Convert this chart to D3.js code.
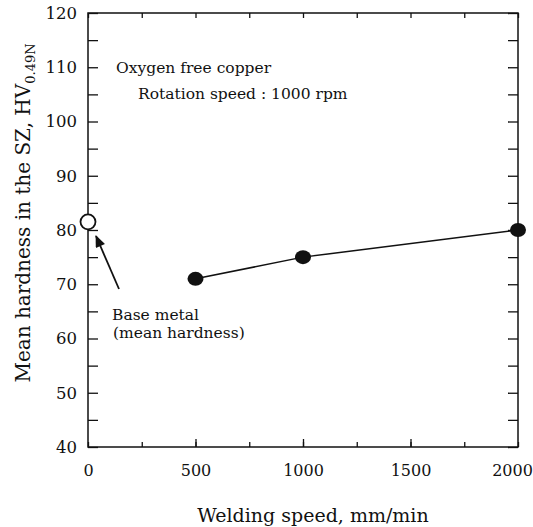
<!DOCTYPE html>
<html>
<head>
<meta charset="utf-8">
<script src="https://cdn.jsdelivr.net/npm/d3@7"></script>
<style>
  html, body { margin: 0; padding: 0; background: #fff; }
  svg text { font-family: "DejaVu Serif", "Liberation Serif", serif; fill: #111; }
</style>
</head>
<body>
<svg id="chart" width="533" height="527"></svg>
<script>
// Welding speed (mm/min) and mean stir-zone hardness (HV0.49N)
const weldingSpeed = [500, 1000, 2000];
const meanHardness = [71, 75, 80];
// Base metal reference value, plotted at speed 0
const baseSpeed = [0];
const baseHardness = [81.5];

const xTickLabels = [0, 500, 1000, 1500, 2000];
const xMinorTicks = [0, 250, 500, 750, 1000, 1250, 1500, 1750, 2000];
const yTickLabels = [40, 50, 60, 70, 80, 90, 100, 110, 120];
const yMinorTicks = [40, 45, 50, 55, 60, 65, 70, 75, 80, 85, 90, 95, 100, 105, 110, 115, 120];

const svg = d3.select("#chart");
const plotL = 88, plotR = 518, plotT = 13, plotB = 447;

const x = d3.scaleLinear().domain([0, 2000]).range([plotL, plotR]);
const y = d3.scaleLinear().domain([40, 120]).range([plotB, plotT]);

const ink = "#111";

// frame
svg.append("rect")
  .attr("x", plotL).attr("y", plotT)
  .attr("width", plotR - plotL).attr("height", plotB - plotT)
  .attr("fill", "none").attr("stroke", ink).attr("stroke-width", 1.5);

function styleAxis(g) {
  g.select(".domain").remove();
  g.selectAll(".tick line").attr("stroke", ink).attr("stroke-width", 1.3);
  g.selectAll(".tick text").attr("fill", ink);
}

// y ticks (inward) on both sides
svg.append("g").attr("transform", `translate(${plotL},0)`)
  .call(d3.axisLeft(y).tickValues(yMinorTicks).tickSize(-10).tickFormat(""))
  .call(styleAxis);
svg.append("g").attr("transform", `translate(${plotR},0)`)
  .call(d3.axisRight(y).tickValues(yMinorTicks).tickSize(-10).tickFormat(""))
  .call(styleAxis);
// y labels
svg.append("g").attr("transform", `translate(${plotL},0)`)
  .call(d3.axisLeft(y).tickValues(yTickLabels).tickSize(0).tickPadding(11).tickFormat(d3.format("d")))
  .call(styleAxis)
  .selectAll("text").style("font-size", "16.5px");

// x ticks (inward) top and bottom
svg.append("g").attr("transform", `translate(0,${plotT})`)
  .call(d3.axisTop(x).tickValues(xMinorTicks).tickSize(-5).tickFormat(""))
  .call(styleAxis);
svg.append("g").attr("transform", `translate(0,${plotB})`)
  .call(d3.axisBottom(x).tickValues(xMinorTicks).tickSize(-5).tickFormat(""))
  .call(styleAxis);
svg.append("g").attr("transform", `translate(0,${plotB})`)
  .call(d3.axisBottom(x).tickValues(xTickLabels.slice(1, 4)).tickSize(-8).tickFormat(""))
  .call(styleAxis);
// x labels
const xLab = svg.append("g").attr("transform", `translate(0,${plotB})`)
  .call(d3.axisBottom(x).tickValues(xTickLabels).tickSize(0).tickPadding(18).tickFormat(d3.format("d")))
  .call(styleAxis);
xLab.selectAll("text").style("font-size", "16px");
// keep the last label inside the page edge
xLab.selectAll(".tick").filter(d => d === 2000).select("text").attr("dx", -6);

// axis titles
svg.append("text")
  .attr("x", 313).attr("y", 522)
  .attr("text-anchor", "middle")
  .style("font-size", "19px")
  .text("Welding speed, mm/min");

const yt = svg.append("text")
  .attr("transform", `translate(30,213) rotate(-90)`)
  .attr("text-anchor", "middle")
  .style("font-size", "20px");
yt.append("tspan").text("Mean hardness in the SZ, HV");
yt.append("tspan").attr("dy", 5).style("font-size", "13px").text("0.49N");

// annotations
const noteSize = "15.5px";
svg.append("text").attr("x", 116).attr("y", 73).style("font-size", noteSize).text("Oxygen free copper");
svg.append("text").attr("x", 138).attr("y", 99).style("font-size", noteSize).text("Rotation speed : 1000 rpm");
svg.append("text").attr("x", 112).attr("y", 320).style("font-size", noteSize).text("Base metal");
svg.append("text").attr("x", 113).attr("y", 338).style("font-size", noteSize).text("(mean hardness)");

// arrow pointing at base metal marker
svg.append("defs").append("marker")
  .attr("id", "head").attr("viewBox", "0 0 12 10")
  .attr("refX", 11).attr("refY", 5)
  .attr("markerWidth", 13).attr("markerHeight", 10)
  .attr("markerUnits", "userSpaceOnUse")
  .attr("orient", "auto")
  .append("path").attr("d", "M0,0 L12,5 L0,10 Z").attr("fill", ink);
svg.append("line")
  .attr("x1", 119).attr("y1", 289)
  .attr("x2", 96).attr("y2", 236)
  .attr("stroke", ink).attr("stroke-width", 1.8)
  .attr("marker-end", "url(#head)");

// data line
const pts = weldingSpeed.map((s, i) => [s, meanHardness[i]]);
svg.append("path")
  .datum(pts)
  .attr("fill", "none").attr("stroke", ink).attr("stroke-width", 1.5)
  .attr("d", d3.line().x(d => x(d[0])).y(d => y(d[1])));

svg.selectAll("ellipse.weld").data(pts).join("ellipse")
  .attr("class", "weld")
  .attr("cx", d => x(d[0])).attr("cy", d => y(d[1]))
  .attr("rx", 8).attr("ry", 7)
  .attr("fill", ink);

svg.selectAll("circle.base").data(baseSpeed.map((s, i) => [s, baseHardness[i]])).join("circle")
  .attr("class", "base")
  .attr("cx", d => x(d[0])).attr("cy", d => y(d[1]))
  .attr("r", 7.5)
  .attr("fill", "#fff").attr("stroke", ink).attr("stroke-width", 1.8);
</script>
</body>
</html>
